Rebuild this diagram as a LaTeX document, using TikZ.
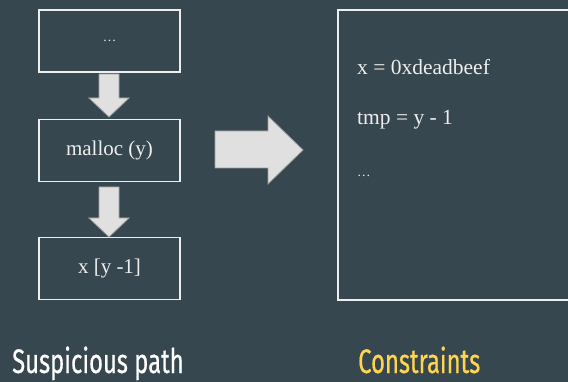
\documentclass[tikz,border=0pt]{standalone}
\usepackage{fontspec}
\setmainfont{Liberation Serif}
\newfontfamily\titlefont[FakeStretch=0.70,FakeBold=0.5]{Fira Sans}
\definecolor{bg}{HTML}{37474F}
\definecolor{boxline}{HTML}{EEEEEE}
\definecolor{txt}{HTML}{EEEEEE}
\definecolor{arrfill}{HTML}{E0E0E0}
\definecolor{arrline}{HTML}{9E9E9E}
\definecolor{yel}{HTML}{FFD54F}
\tikzset{
  flowbox/.style={draw=boxline, line width=1.5pt, minimum width=141pt, minimum height=62pt, inner sep=0pt, text=txt, font=\fontsize{21}{24}\selectfont},
  blockarr/.style={draw=arrline, fill=arrfill, line width=0.8pt, line join=miter},
  ctext/.style={anchor=base west, text=txt, font=\fontsize{21.5}{24}\selectfont, inner sep=0pt},
  dots/.style={font=\fontsize{13.5}{15}\selectfont},
  title/.style={anchor=base west, inner sep=0pt, font=\titlefont\fontsize{34}{38}\selectfont}
}
\begin{document}
\begin{tikzpicture}[x=1pt,y=-1pt]
\fill[bg] (0,0) rectangle (568,382);
\useasboundingbox (0,0) rectangle (568,382);
\node[flowbox, dots] (b1) at (109.5,41) {\ldots};
\node[flowbox] (b2) at (109.5,150.5) {malloc (y)};
\node[flowbox] (b3) at (109.5,268.5) {x [y -1]};
% block arrows
\draw[blockarr] (99,74) -- (119,74) -- (119,98) -- (129,98) -- (109,117) -- (89,98) -- (99,98) -- cycle;
\draw[blockarr] (99,187) -- (119,187) -- (119,218) -- (129,218) -- (109,237) -- (89,218) -- (99,218) -- cycle;
\draw[blockarr] (215,131) -- (268,131) -- (268,116) -- (303,150) -- (268,184) -- (268,168) -- (215,168) -- cycle;
\draw[boxline, line width=1.5pt] (580,10) -- (338,10) -- (338,300) -- (580,300);
\node[ctext] (c1) at (357,75) {x = 0xdeadbeef};
\node[ctext] (c2) at (357,125) {tmp = y - 1};
\node[ctext, dots] (c3) at (357,177) {\ldots};
\node[title, text=white] (t1) at (12,373) {Suspicious path};
\node[title, text=yel] (t2) at (358,373) {Constraints};
\end{tikzpicture}
\end{document}
